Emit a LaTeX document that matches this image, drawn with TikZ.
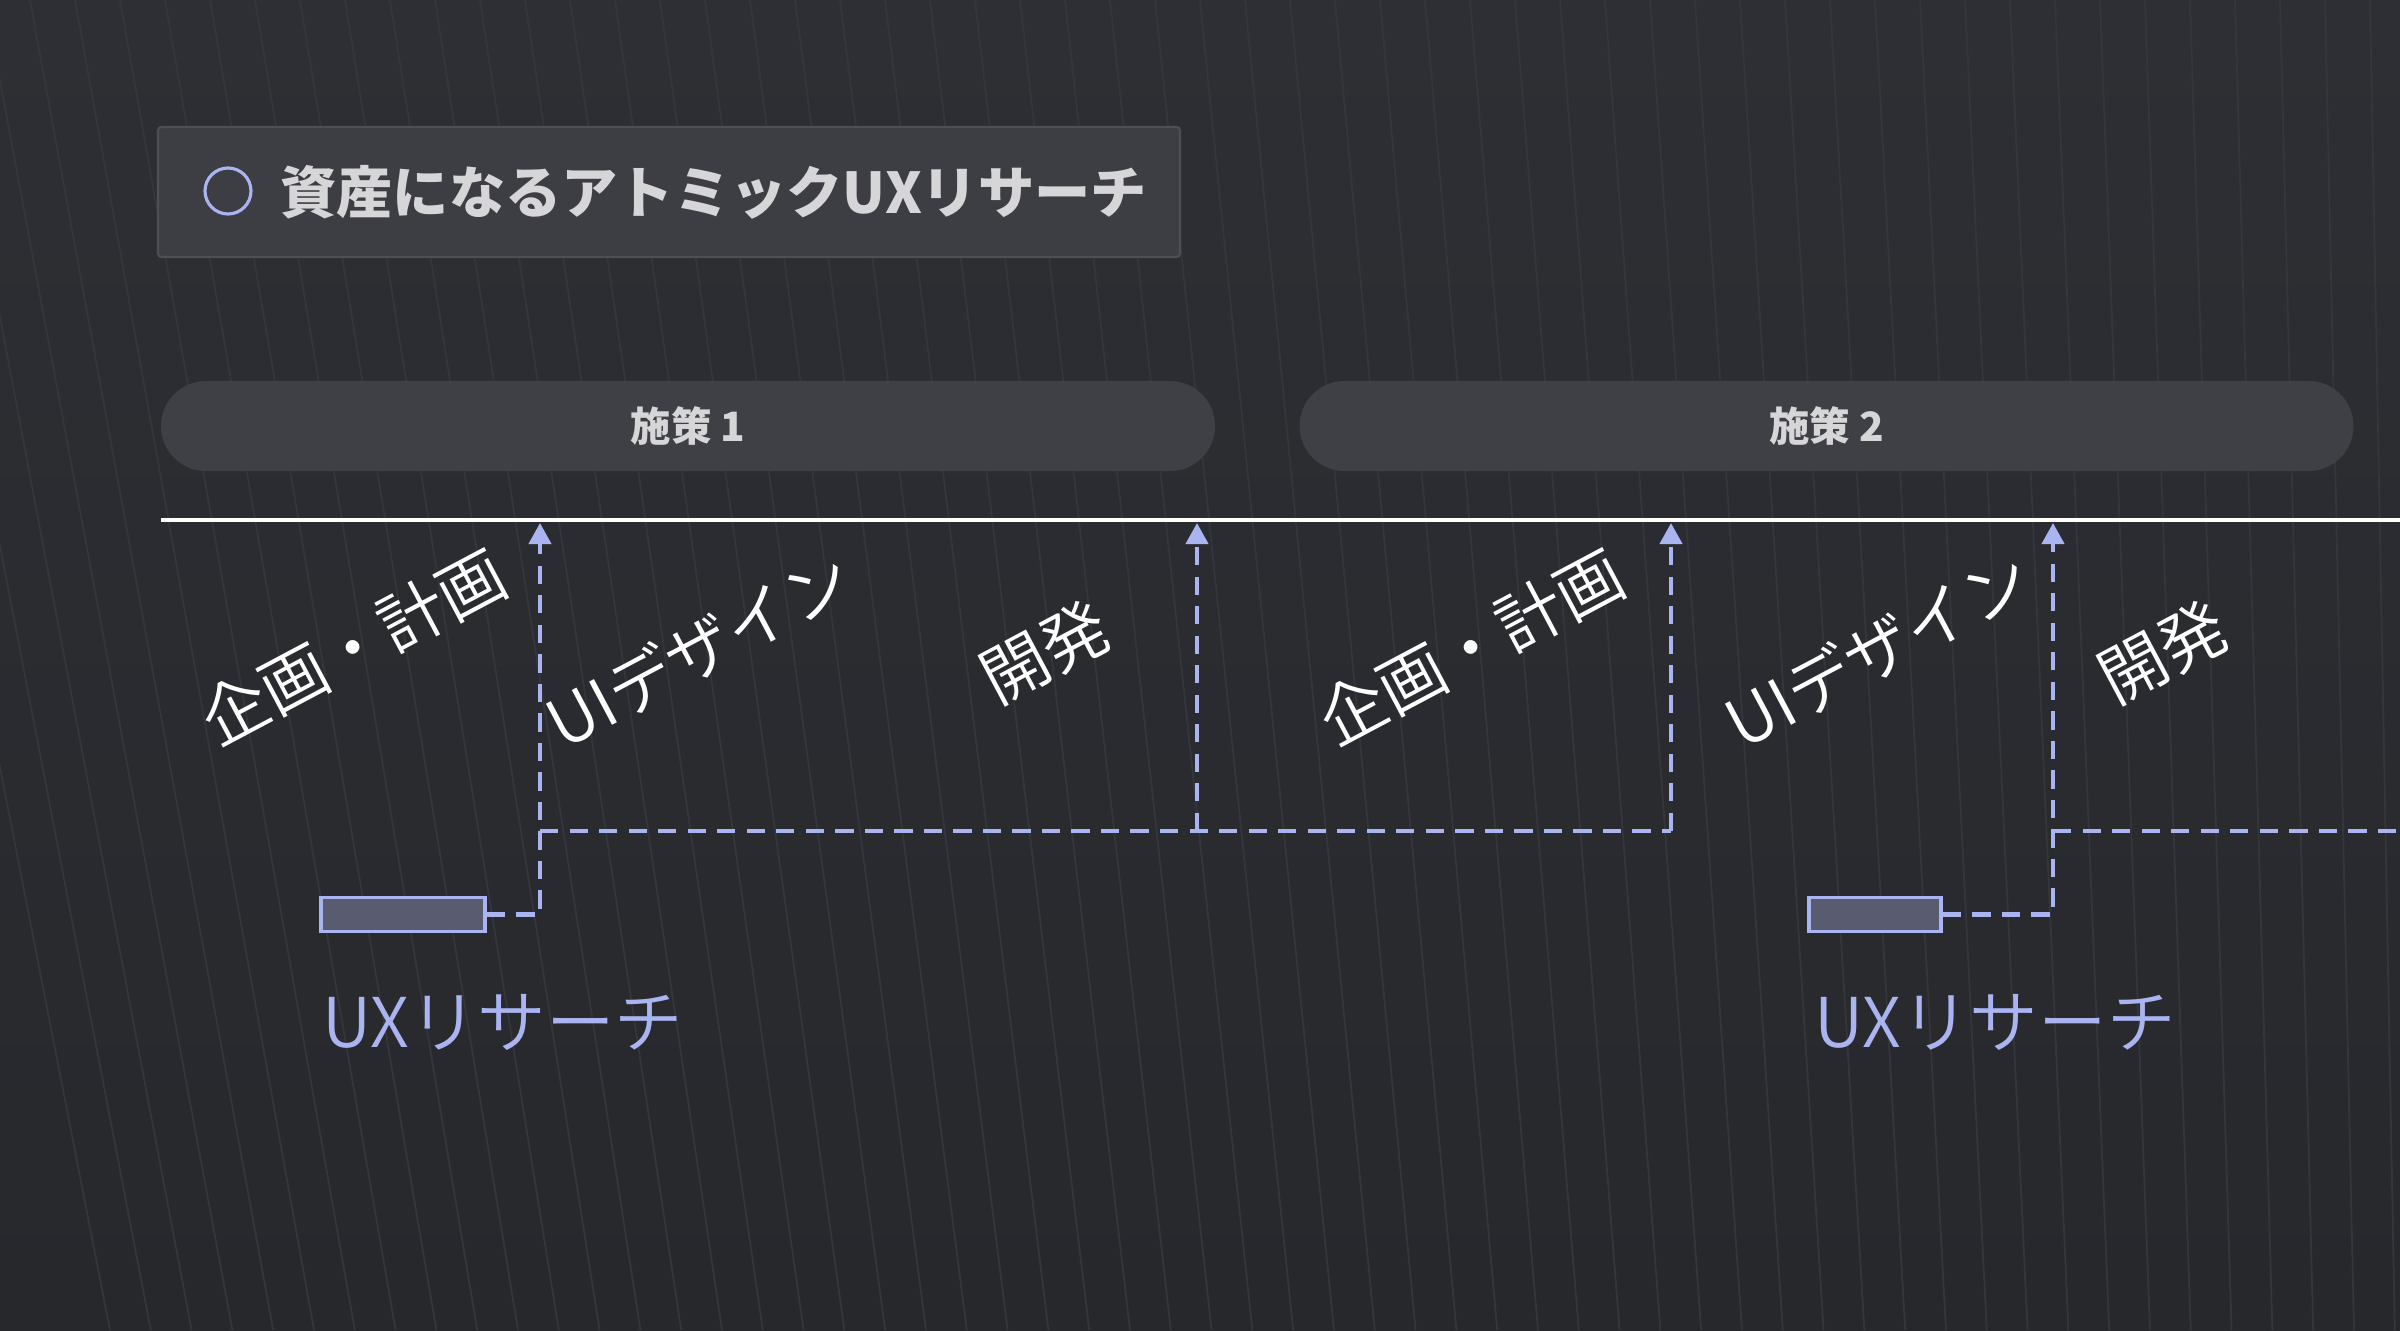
\documentclass[tikz,border=0pt]{standalone}
\usepackage{fontspec}
\usepackage{tikz}
\usetikzlibrary{arrows.meta}
\setmainfont{Noto Sans CJK JP}
\IfFontExistsTF{Noto Sans CJK JP DemiLight}
  {\newfontfamily\thinjp{Noto Sans CJK JP DemiLight}}
  {\newfontfamily\thinjp{Noto Sans CJK JP}}

\definecolor{bgtop}{HTML}{2E2F34}
\definecolor{bgbot}{HTML}{27282C}
\definecolor{texline}{HTML}{35363C}
\definecolor{lav}{HTML}{A9B4F0}
\definecolor{titlefill}{HTML}{3D3E43}
\definecolor{titleedge}{HTML}{4E4F54}
\definecolor{pillfill}{HTML}{3F4045}
\definecolor{softwhite}{HTML}{D6D6D8}
\definecolor{uxfill}{HTML}{595C71}

\begin{document}
\begin{tikzpicture}[thick,>={Triangle[width=2.2mm,length=2.1mm]},
  titlebox/.style={draw=titleedge, fill=titlefill, line width=0.6pt, rounded corners=1pt,
    minimum width=10.22cm, minimum height=1.30cm},
  phase/.style={fill=pillfill, rounded corners=0.45cm, minimum width=10.54cm,
    minimum height=0.9cm, text=softwhite, font=\bfseries\fontsize{11.5}{13}\selectfont},
  stage/.style={white, rotate=28, inner sep=0, font=\thinjp\fontsize{19}{21}\selectfont},
  uxbox/.style={draw=lav, fill=uxfill, line width=1pt, minimum height=0.34cm, inner sep=0},
  uxlabel/.style={lav, anchor=west, inner sep=0, font=\thinjp\fontsize{19.5}{22}\selectfont},
  flow/.style={lav, line width=1.2pt, dash pattern=on 5.2pt off 3.2pt}]

\useasboundingbox (0,0) rectangle (24,13.3);
\clip (0,0) rectangle (24,13.3);

% 背景
\shade[top color=bgtop, bottom color=bgbot] (0,0) rectangle (24,13.3);

% 背景纹理(淡色细线)
\foreach \i in {0,...,56}
  \draw[texline, line width=0.5pt] ({\i*0.45-1.5}, 13.3) -- ({\i*0.45-1.5+2.6-\i*0.042}, 0);

% 标题框
\node[titlebox] (titlebg) at (6.69,11.38) {};
\node[circle, draw=lav, line width=0.9pt, minimum size=0.46cm, inner sep=0] (mark) at (2.28,11.39) {};
\node[anchor=west, inner sep=0, text=softwhite, font=\bfseries\fontsize{16}{18}\selectfont] (title) at (2.79,11.38) {資産になるアトミックUXリサーチ};

% 施策
\node[phase] (phase1) at (6.88,9.04) {施策 1};
\node[phase] (phase2) at (18.265,9.04) {施策 2};

% 时间轴
\coordinate (axisL) at (1.61,8.10);
\coordinate (axisR) at (24.2,8.10);
\draw[white, line width=1.2pt] (axisL) -- (axisR);

% 阶段标注
\node[stage] (plan1) at (3.53,6.83) {企画・計画};
\node[stage] (ui1)   at (6.99,6.81) {UIデザイン};
\node[stage] (dev1)  at (10.45,6.78) {開発};
\node[stage] (plan2) at (14.71,6.83) {企画・計画};
\node[stage] (ui2)   at (18.78,6.81) {UIデザイン};
\node[stage] (dev2)  at (21.63,6.78) {開発};

% UXリサーチ
\node[uxbox, minimum width=1.64cm] (ux1) at (4.03,4.155) {};
\node[uxbox, minimum width=1.32cm] (ux2) at (18.75,4.155) {};
\node[uxlabel] (uxtext1) at (3.21,3.08) {UXリサーチ};
\node[uxlabel] (uxtext2) at (18.13,3.08) {UXリサーチ};

% 箭头端点
\coordinate (t1) at (5.40,8.07);
\coordinate (t2) at (11.97,8.07);
\coordinate (t3) at (16.71,8.07);
\coordinate (t4) at (20.53,8.07);
\coordinate (j1) at (5.40,4.99);
\coordinate (j2) at (11.97,4.99);
\coordinate (j3) at (16.71,4.99);
\coordinate (j4) at (20.53,4.99);
\coordinate (jend) at (24.2,4.99);

% 虚线箭头
\draw[flow,->] (ux1.east) -| (t1);
\draw[flow,->] (ux2.east) -| (t4);
\draw[flow] (j1) -- (j3);
\draw[flow,->] (j2) -- (t2);
\draw[flow,->] (j3) -- (t3);
\draw[flow] (j4) -- (jend);

\end{tikzpicture}
\end{document}
